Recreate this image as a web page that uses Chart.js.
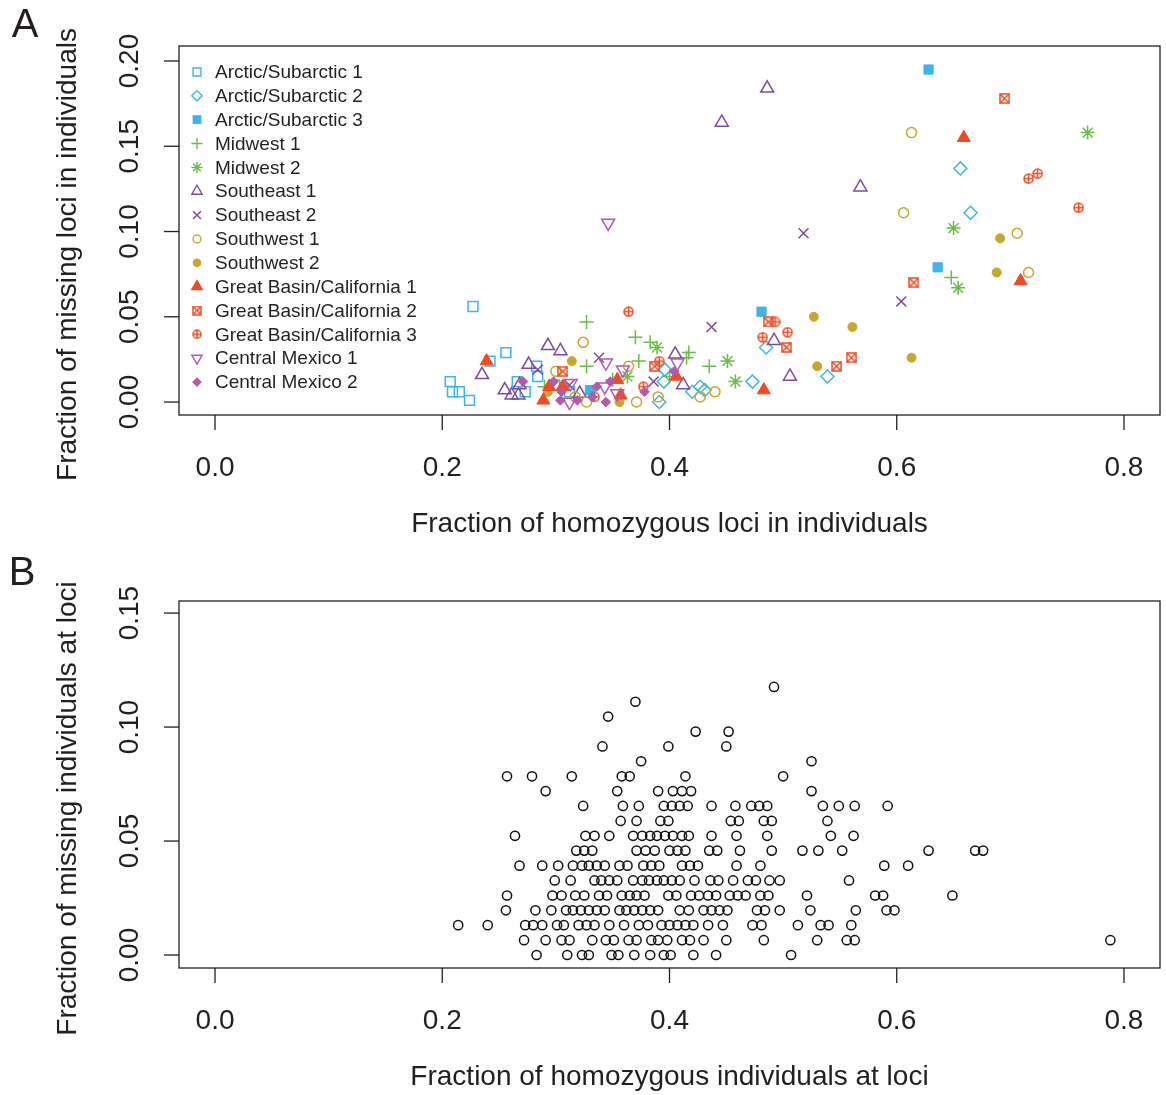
<!DOCTYPE html>
<html>
<head>
<meta charset="utf-8">
<script src="https://cdn.jsdelivr.net/npm/chart.js@4.4.0/dist/chart.umd.min.js"></script>
<style>
  body { margin: 0; background: #fff; }
  canvas { display: block; }
</style>
</head>
<body>
<canvas id="panelA" width="1166" height="550"></canvas>
<canvas id="panelB" width="1166" height="545"></canvas>
<script>
// ---- panel A: per-individual fractions [homozygous, missing] ----
const arctic1 = [[0.227,0.056],[0.242,0.024],[0.256,0.029],[0.207,0.012],[0.209,0.006],[0.215,0.006],[0.224,0.001],[0.266,0.012],[0.273,0.006],[0.283,0.021],[0.284,0.015],[0.299,0.010],[0.312,0.006]];
const arctic2 = [[0.656,0.137],[0.665,0.111],[0.539,0.015],[0.485,0.032],[0.473,0.012],[0.427,0.009],[0.431,0.007],[0.420,0.006],[0.395,0.012],[0.391,0.000],[0.396,0.019]];
const arctic3 = [[0.628,0.195],[0.636,0.079],[0.481,0.053],[0.330,0.007]];
const midwest1 = [[0.327,0.047],[0.370,0.038],[0.383,0.035],[0.417,0.029],[0.415,0.026],[0.435,0.021],[0.373,0.024],[0.327,0.021],[0.350,0.013],[0.648,0.073],[0.290,0.009],[0.400,0.015]];
const midwest2 = [[0.768,0.158],[0.650,0.102],[0.654,0.067],[0.389,0.032],[0.451,0.024],[0.458,0.012],[0.363,0.015]];
const southeast1 = [[0.486,0.184],[0.446,0.164],[0.568,0.126],[0.492,0.036],[0.506,0.015],[0.412,0.010],[0.405,0.028],[0.293,0.033],[0.304,0.030],[0.276,0.022],[0.235,0.016],[0.268,0.010],[0.255,0.007],[0.261,0.004],[0.267,0.004],[0.321,0.005]];
const southeast2 = [[0.518,0.099],[0.604,0.059],[0.437,0.044],[0.338,0.026],[0.284,0.019],[0.386,0.012],[0.312,0.010]];
const southwest1 = [[0.613,0.158],[0.606,0.111],[0.706,0.099],[0.716,0.076],[0.324,0.035],[0.300,0.018],[0.364,0.021],[0.317,0.003],[0.327,0.000],[0.371,0.000],[0.390,0.003],[0.427,0.003],[0.440,0.006]];
const southwest2 = [[0.691,0.096],[0.688,0.076],[0.613,0.026],[0.527,0.050],[0.561,0.044],[0.530,0.021],[0.314,0.024],[0.293,0.006],[0.356,0.000]];
const basin1 = [[0.659,0.155],[0.709,0.071],[0.483,0.007],[0.239,0.024],[0.294,0.009],[0.306,0.009],[0.289,0.001],[0.354,0.013],[0.357,0.004],[0.406,0.015]];
const basin2 = [[0.695,0.178],[0.615,0.070],[0.487,0.047],[0.503,0.032],[0.547,0.021],[0.560,0.026],[0.387,0.021],[0.306,0.018]];
const basin3 = [[0.716,0.131],[0.724,0.134],[0.760,0.114],[0.364,0.053],[0.493,0.047],[0.482,0.038],[0.504,0.041],[0.391,0.024],[0.377,0.009],[0.334,0.003]];
const mexico1 = [[0.346,0.105],[0.407,0.023],[0.344,0.023],[0.313,0.011],[0.312,0.000],[0.359,0.019],[0.354,0.005],[0.343,0.009]];
const mexico2 = [[0.271,0.012],[0.298,0.012],[0.305,0.006],[0.304,0.001],[0.319,0.001],[0.336,0.009],[0.332,0.003],[0.348,0.012],[0.378,0.006],[0.404,0.018],[0.344,0.000]];

// ---- panel B: per-locus fractions, grouped by missing fraction ----
const missLevels = [0, 0.0065, 0.0131, 0.0196, 0.0261, 0.0327, 0.0392, 0.0458, 0.0523, 0.0588, 0.0654, 0.0719, 0.0784, 0.0850, 0.0915, 0.0980, 0.1046, 0.1111, 0.1176];
const homAtLevel = [
  [0.283,0.310,0.323,0.329,0.349,0.355,0.369,0.383,0.395,0.401,0.421,0.441,0.507],
  [0.272,0.291,0.305,0.312,0.332,0.344,0.351,0.364,0.371,0.384,0.390,0.398,0.411,0.418,0.430,0.450,0.483,0.530,0.556,0.563,0.788],
  [0.214,0.240,0.273,0.280,0.288,0.301,0.307,0.320,0.327,0.334,0.347,0.360,0.373,0.381,0.393,0.400,0.407,0.414,0.421,0.434,0.447,0.473,0.481,0.513,0.533,0.540,0.560],
  [0.256,0.282,0.296,0.309,0.315,0.322,0.329,0.336,0.343,0.356,0.362,0.369,0.376,0.383,0.390,0.409,0.417,0.430,0.437,0.444,0.451,0.477,0.484,0.497,0.524,0.564,0.591,0.598],
  [0.257,0.297,0.305,0.317,0.325,0.338,0.345,0.358,0.365,0.371,0.378,0.399,0.406,0.419,0.426,0.434,0.441,0.453,0.460,0.467,0.480,0.487,0.521,0.581,0.588,0.649],
  [0.299,0.313,0.334,0.340,0.347,0.354,0.368,0.376,0.382,0.389,0.395,0.402,0.409,0.422,0.436,0.443,0.456,0.469,0.476,0.488,0.497,0.558],
  [0.268,0.288,0.302,0.315,0.323,0.329,0.336,0.343,0.356,0.363,0.377,0.384,0.391,0.411,0.418,0.425,0.459,0.480,0.589,0.610],
  [0.318,0.325,0.332,0.371,0.379,0.387,0.400,0.407,0.414,0.435,0.442,0.462,0.490,0.517,0.531,0.552,0.628,0.669,0.676],
  [0.264,0.326,0.334,0.347,0.368,0.376,0.383,0.389,0.396,0.403,0.411,0.417,0.437,0.459,0.486,0.542,0.562],
  [0.357,0.371,0.392,0.399,0.454,0.461,0.483,0.490,0.539],
  [0.324,0.359,0.373,0.395,0.402,0.409,0.416,0.437,0.458,0.472,0.479,0.486,0.535,0.549,0.563,0.592],
  [0.291,0.354,0.390,0.403,0.411,0.419,0.525],
  [0.257,0.279,0.314,0.358,0.365,0.414,0.500],
  [0.375,0.525],
  [0.341,0.399,0.450],
  [0.423,0.452],
  [0.346],
  [0.370],
  [0.492]
];

const xTickVals = [0, 0.2, 0.4, 0.6, 0.8];
const yTicksA = [0, 0.05, 0.10, 0.15, 0.20];
const yTicksB = [0, 0.05, 0.10, 0.15];

const INK = '#231f20';
const FONT = '"Liberation Sans", Arial, Helvetica, sans-serif';
const BLUE = '#3db5e6', GREEN = '#6abd45', PURPLE = '#7d4c9f', GOLD = '#c9a62c', RED = '#ef4b25', MAGENTA = '#b35aae';

// R pch 7 (square with x) and pch 10 (circle with plus)
function squareCross(col, s) {
  const c = document.createElement('canvas');
  c.width = c.height = s;
  const g = c.getContext('2d');
  g.strokeStyle = col; g.lineWidth = 1.5;
  g.strokeRect(1, 1, s - 2, s - 2);
  g.beginPath();
  g.moveTo(1, 1); g.lineTo(s - 1, s - 1);
  g.moveTo(s - 1, 1); g.lineTo(1, s - 1);
  g.stroke();
  return c;
}
function circlePlus(col, s) {
  const c = document.createElement('canvas');
  c.width = c.height = s;
  const g = c.getContext('2d');
  g.strokeStyle = col; g.lineWidth = 1.5;
  g.beginPath(); g.arc(s / 2, s / 2, s / 2 - 1, 0, Math.PI * 2); g.stroke();
  g.beginPath();
  g.moveTo(s / 2, 1); g.lineTo(s / 2, s - 1);
  g.moveTo(1, s / 2); g.lineTo(s - 1, s / 2);
  g.stroke();
  return c;
}

const groups = [
  {label: 'Arctic/Subarctic 1', pts: arctic1, col: BLUE, style: 'rect', r: 7, fill: false},
  {label: 'Arctic/Subarctic 2', pts: arctic2, col: BLUE, style: 'rectRot', r: 6.5, fill: false},
  {label: 'Arctic/Subarctic 3', pts: arctic3, col: BLUE, style: 'rect', r: 6.5, fill: true},
  {label: 'Midwest 1', pts: midwest1, col: GREEN, style: 'cross', r: 7, fill: false},
  {label: 'Midwest 2', pts: midwest2, col: GREEN, style: 'star', r: 7, fill: false},
  {label: 'Southeast 1', pts: southeast1, col: PURPLE, style: 'triangle', r: 7.5, fill: false},
  {label: 'Southeast 2', pts: southeast2, col: PURPLE, style: 'crossRot', r: 7, fill: false},
  {label: 'Southwest 1', pts: southwest1, col: GOLD, style: 'circle', r: 5, fill: false},
  {label: 'Southwest 2', pts: southwest2, col: GOLD, style: 'circle', r: 4.5, fill: true},
  {label: 'Great Basin/California 1', pts: basin1, col: RED, style: 'triangle', r: 7.5, fill: true},
  {label: 'Great Basin/California 2', pts: basin2, col: RED, style: squareCross(RED, 11), small: squareCross(RED, 10), fill: false},
  {label: 'Great Basin/California 3', pts: basin3, col: RED, style: circlePlus(RED, 11), small: circlePlus(RED, 10), fill: false},
  {label: 'Central Mexico 1', pts: mexico1, col: MAGENTA, style: 'triangle', r: 7.5, rot: 180, fill: false},
  {label: 'Central Mexico 2', pts: mexico2, col: MAGENTA, style: 'rectRot', r: 4.8, fill: true}
];

// box, ticks, labels and titles in the style of base R graphics
const baseAxes = {
  id: 'baseAxes',
  afterDraw(chart, args, o) {
    const {ctx, chartArea: a, scales: {x, y}} = chart;
    ctx.save();
    ctx.strokeStyle = INK; ctx.fillStyle = INK; ctx.lineWidth = 1.3;
    ctx.strokeRect(a.left, a.top, a.right - a.left, a.bottom - a.top);

    ctx.font = '28px ' + FONT;
    ctx.textAlign = 'center'; ctx.textBaseline = 'middle';
    o.xTicks.forEach(v => {
      const px = x.getPixelForValue(v);
      ctx.beginPath(); ctx.moveTo(px, a.bottom); ctx.lineTo(px, a.bottom + 15); ctx.stroke();
      ctx.fillText(v.toFixed(1), px, a.bottom + 53);
    });
    o.yTicks.forEach(v => {
      const py = y.getPixelForValue(v);
      ctx.beginPath(); ctx.moveTo(a.left, py); ctx.lineTo(a.left - 15, py); ctx.stroke();
      ctx.save(); ctx.translate(a.left - 49, py); ctx.rotate(-Math.PI / 2);
      ctx.fillText(v.toFixed(2), 0, 0);
      ctx.restore();
    });

    ctx.fillText(o.xTitle, (a.left + a.right) / 2, a.bottom + 109);
    ctx.save();
    ctx.translate(68, (a.top + a.bottom) / 2 + 24);
    ctx.rotate(-Math.PI / 2);
    ctx.fillText(o.yTitle, 0, 0);
    ctx.restore();

    ctx.font = '40px ' + FONT;
    ctx.fillText(o.letter, o.letterAt[0], o.letterAt[1]);

    if (o.legend) {
      ctx.font = '19px ' + FONT;
      ctx.textAlign = 'left';
      chart.data.datasets.forEach((ds, i) => {
        const g = groups[i];
        const ly = 72 + i * 23.85;
        ctx.lineWidth = 1.4;
        ctx.strokeStyle = ds.borderColor;
        ctx.fillStyle = ds.backgroundColor;
        Chart.helpers.drawPoint(ctx, {
          pointStyle: g.small || g.style,
          radius: g.r ? g.r * 0.8 : 0,
          rotation: g.rot || 0,
          borderWidth: 1.4
        }, 197, ly);
        ctx.fillStyle = INK;
        ctx.fillText(ds.label, 215, ly + 1);
      });
    }
    ctx.restore();
  }
};

const datasetsA = groups.map((g, i) => ({
  label: g.label,
  data: g.pts.map(p => ({x: p[0], y: p[1]})),
  pointStyle: g.style,
  pointRadius: g.r || 6,
  rotation: g.rot || 0,
  borderColor: g.col,
  backgroundColor: g.fill ? g.col : 'rgba(0,0,0,0)',
  borderWidth: g.fill ? 1 : 1.5,
  order: -i
}));

// hidden scales: the plugin above draws the axes, so no tick labels here
const hiddenScale = (min, max) => ({type: 'linear', min, max, display: false, ticks: {display: false}});

new Chart(document.getElementById('panelA'), {
  type: 'scatter',
  data: {datasets: datasetsA},
  options: {
    responsive: false,
    animation: false,
    events: [],
    layout: {autoPadding: false, padding: {left: 179, right: 6, top: 46, bottom: 135}},
    scales: {
      x: hiddenScale(-0.0317, 0.8317),
      y: hiddenScale(-0.0076, 0.2088)
    },
    plugins: {
      legend: {display: false},
      tooltip: {enabled: false},
      baseAxes: {
        xTicks: xTickVals, yTicks: yTicksA,
        xTitle: 'Fraction of homozygous loci in individuals',
        yTitle: 'Fraction of missing loci in individuals',
        letter: 'A', letterAt: [25, 26], legend: true
      }
    }
  },
  plugins: [baseAxes]
});

const lociPoints = [];
homAtLevel.forEach((row, k) => row.forEach(h => lociPoints.push({x: h, y: missLevels[k]})));

new Chart(document.getElementById('panelB'), {
  type: 'scatter',
  data: {
    datasets: [{
      label: 'loci',
      data: lociPoints,
      pointStyle: 'circle',
      pointRadius: 4.6,
      borderWidth: 1.5,
      borderColor: '#111',
      backgroundColor: 'rgba(0,0,0,0)'
    }]
  },
  options: {
    responsive: false,
    animation: false,
    events: [],
    layout: {autoPadding: false, padding: {left: 179, right: 6, top: 51, bottom: 127}},
    scales: {
      x: hiddenScale(-0.0317, 0.8317),
      y: hiddenScale(-0.0057, 0.1553)
    },
    plugins: {
      legend: {display: false},
      tooltip: {enabled: false},
      baseAxes: {
        xTicks: xTickVals, yTicks: yTicksB,
        xTitle: 'Fraction of homozygous individuals at loci',
        yTitle: 'Fraction of missing individuals at loci',
        letter: 'B', letterAt: [22, 24], legend: false
      }
    }
  },
  plugins: [baseAxes]
});
</script>
</body>
</html>
